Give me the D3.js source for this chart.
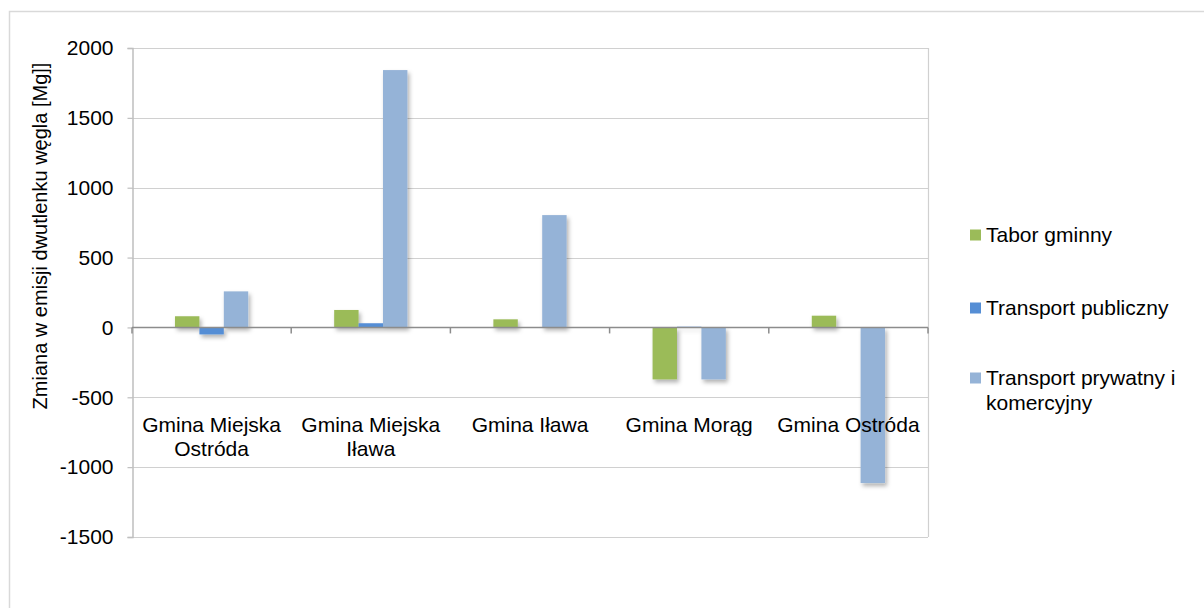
<!DOCTYPE html>
<html><head><meta charset="utf-8">
<script src="https://cdn.jsdelivr.net/npm/d3@7"></script>
<style>body{margin:0;background:#fff}svg text{font-family:"Liberation Sans",Arial,sans-serif;fill:#000}</style>
</head><body><svg id="c" width="1204" height="608"></svg>
<script>
const categories = [["Gmina Miejska","Ostróda"],["Gmina Miejska","Iława"],["Gmina Iława"],["Gmina Morąg"],["Gmina Ostróda"]];
const seriesNames = ["Tabor gminny","Transport publiczny","Transport prywatny i komercyjny"];
const seriesLegend = [["Tabor gminny"],["Transport publiczny"],["Transport prywatny i","komercyjny"]];
const taborGminny = [80, 125, 58, -372, 84];
const transportPubliczny = [-50, 30, 0, 5, 0];
const transportPrywatny = [258, 1842, 804, -372, -1114];
const yTicks = [-1500,-1000,-500,0,500,1000,1500,2000];
const colors = ["#9BBB59","#558ED5","#95B3D7"];
const yTitle = "Zmiana w emisji dwutlenku węgla [Mg]]";

const values = [taborGminny, transportPubliczny, transportPrywatny];
const FS = "21px";
const svg = d3.select("#c");
const defs = svg.append("defs");
const f = defs.append("filter").attr("id","sh").attr("x","-30%").attr("y","-30%").attr("width","160%").attr("height","160%");
f.append("feDropShadow").attr("dx",2).attr("dy",3).attr("stdDeviation",2.2).attr("flood-color","#000").attr("flood-opacity",0.3);

// outer border
svg.append("rect").attr("x",9.5).attr("y",11.5).attr("width",1200).attr("height",600).attr("fill","none").attr("stroke","#d9d9d9").attr("stroke-width",1.5);

const L=132, R=928, T=48, B=537;
const y = d3.scaleLinear().domain([-1500,2000]).range([B,T]);
const x0 = d3.scaleBand().domain(d3.range(categories.length)).range([L,R]).paddingInner(0).paddingOuter(0);
const x1 = d3.scaleBand().domain(d3.range(3)).range([0,x0.bandwidth()]).paddingInner(0).paddingOuter(1.76);

// gridlines
svg.append("g").selectAll("line").data(yTicks.filter(d=>d!==0)).join("line")
  .attr("x1",L).attr("x2",R).attr("y1",d=>Math.round(y(d))+0.5).attr("y2",d=>Math.round(y(d))+0.5)
  .attr("stroke","#d0d0d0").attr("stroke-width",1.2);
// right border of plot
svg.append("line").attr("x1",R+0.5).attr("x2",R+0.5).attr("y1",T).attr("y2",B).attr("stroke","#d0d0d0").attr("stroke-width",1.2);

// y axis
const yAxis = d3.axisLeft(y).tickValues(yTicks).tickSize(5).tickPadding(14).tickFormat(d=>String(d));
const ga = svg.append("g").attr("transform",`translate(${L+0.5},0)`).call(yAxis);
ga.select(".domain").attr("stroke","#bfbfbf").attr("stroke-width",1.5);
ga.selectAll(".tick line").attr("stroke","#bfbfbf").attr("stroke-width",1.2);
ga.selectAll(".tick text").style("font-size",FS).attr("fill","#000");

// bars
const gBars = svg.append("g").attr("filter","url(#sh)");
values.forEach((vals,s)=>{
  gBars.append("g").selectAll("rect").data(vals).join("rect")
    .attr("x",(d,i)=>x0(i)+x1(s))
    .attr("width",x1.bandwidth())
    .attr("y",d=>y(Math.max(0,d)))
    .attr("height",d=>Math.abs(y(d)-y(0)))
    .attr("fill",colors[s]);
});

// zero axis
const gx = svg.append("g").attr("transform",`translate(0,${y(0)})`);
gx.append("line").attr("x1",L).attr("x2",R).attr("stroke","#8c8c8c").attr("stroke-width",1.5);
gx.selectAll("line.t").data(d3.range(categories.length+1)).join("line").attr("class","t")
  .attr("x1",i=>i<categories.length?x0(i):R).attr("x2",i=>i<categories.length?x0(i):R)
  .attr("y1",0).attr("y2",6).attr("stroke","#8c8c8c").attr("stroke-width",1.5);

// category labels
const gl = svg.append("g");
categories.forEach((lines,i)=>{
  const t = gl.append("text").attr("x",x0(i)+x0.bandwidth()/2).attr("y",432).attr("text-anchor","middle").style("font-size",FS);
  lines.forEach((ln,j)=>t.append("tspan").attr("x",x0(i)+x0.bandwidth()/2).attr("dy",j===0?0:24).text(ln));
});

// y title
svg.append("text").attr("transform","translate(47,236) rotate(-90)").attr("text-anchor","middle").style("font-size","20px").text(yTitle);

// legend
const legY = [235,308,378];
seriesLegend.forEach((lines,s)=>{
  svg.append("rect").attr("x",970).attr("y",legY[s]-5.5).attr("width",11).attr("height",11).attr("fill",colors[s]);
  const t = svg.append("text").attr("x",986).attr("y",legY[s]+7).style("font-size",FS);
  lines.forEach((ln,j)=>t.append("tspan").attr("x",986).attr("dy",j===0?0:25).text(ln));
});
</script></body></html>
